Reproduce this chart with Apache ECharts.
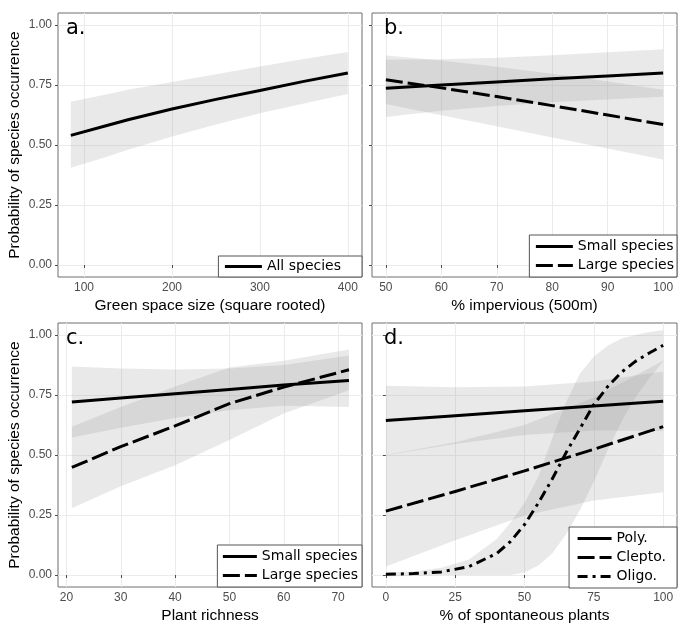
<!DOCTYPE html>
<html>
<head>
<meta charset="utf-8">
<script src="https://cdn.jsdelivr.net/npm/echarts@6/dist/echarts.min.js"></script>
<style>html,body{margin:0;padding:0;background:#fff}#chart{width:685px;height:636px}</style>
</head>
<body>
<div id="chart"></div>
<script>
// ---------- Panel a: Green space size ----------
const aX      = [85, 125, 150, 200, 250, 300, 350, 400];
const aFit    = [0.54, 0.58, 0.605, 0.65, 0.69, 0.727, 0.765, 0.80];
const aUpper  = [0.68, 0.71, 0.73, 0.762, 0.795, 0.827, 0.858, 0.887];
const aLower  = [0.405, 0.45, 0.48, 0.535, 0.585, 0.632, 0.673, 0.712];

// ---------- Panel b: % impervious ----------
const bX           = [50, 60, 70, 80, 90, 100];
const bSmallFit    = [0.736, 0.750, 0.763, 0.776, 0.788, 0.800];
const bSmallUpper  = [0.855, 0.857, 0.864, 0.874, 0.886, 0.899];
const bSmallLower  = [0.617, 0.643, 0.662, 0.678, 0.690, 0.701];
const bLargeFit    = [0.772, 0.738, 0.702, 0.664, 0.625, 0.585];
const bLargeUpper  = [0.873, 0.852, 0.826, 0.797, 0.765, 0.730];
const bLargeLower  = [0.671, 0.624, 0.578, 0.531, 0.485, 0.440];

// ---------- Panel c: Plant richness ----------
const cX           = [21, 30, 40, 50, 60, 72];
const cSmallFit    = [0.721, 0.737, 0.755, 0.773, 0.792, 0.81];
const cSmallUpper  = [0.869, 0.860, 0.856, 0.860, 0.875, 0.915];
const cSmallLower  = [0.573, 0.614, 0.654, 0.686, 0.705, 0.700];
const cLargeFit    = [0.448, 0.535, 0.621, 0.714, 0.783, 0.855];
const cLargeUpper  = [0.618, 0.700, 0.785, 0.865, 0.893, 0.940];
const cLargeLower  = [0.278, 0.370, 0.457, 0.563, 0.673, 0.770];

// ---------- Panel d: % of spontaneous plants ----------
const dX            = [0, 25, 50, 75, 100];
const dPolyFit      = [0.644, 0.664, 0.684, 0.704, 0.724];
const dPolyUpper    = [0.789, 0.782, 0.785, 0.806, 0.848];
const dPolyLower    = [0.499, 0.546, 0.583, 0.602, 0.600];
const dCleptoFit    = [0.266, 0.348, 0.434, 0.524, 0.618];
const dCleptoUpper  = [0.500, 0.553, 0.625, 0.740, 0.893];
const dCleptoLower  = [0.035, 0.145, 0.248, 0.310, 0.345];
const dOligoX       = [0, 10, 20, 30, 40, 45, 50, 55, 60, 65, 70, 75, 80, 85, 90, 95, 100];
const dOligoFit     = [0.003, 0.006, 0.013, 0.035, 0.09, 0.14, 0.21, 0.30, 0.40, 0.51, 0.61, 0.71, 0.785, 0.845, 0.89, 0.925, 0.957];
const dOligoUpper   = [0.01, 0.015, 0.03, 0.065, 0.15, 0.22, 0.30, 0.41, 0.57, 0.72, 0.84, 0.91, 0.955, 0.985, 1.0, 1.012, 1.02];
const dOligoLower   = [-0.005, -0.004, 0.0, 0.0, 0.0, 0.0, 0.01, 0.04, 0.09, 0.17, 0.27, 0.39, 0.52, 0.64, 0.74, 0.82, 0.89];

// ---------- Axes ----------
const xTicksA = [100, 200, 300, 400];
const xTicksB = [50, 60, 70, 80, 90, 100];
const xTicksC = [20, 30, 40, 50, 60, 70];
const xTicksD = [0, 25, 50, 75, 100];
const yTicks  = [0, 0.25, 0.5, 0.75, 1];
const xTitles = ['Green space size (square rooted)', '% impervious (500m)', 'Plant richness', '% of spontaneous plants'];
const yTitle  = 'Probability of species occurrence';
const panelLetters = ['a.', 'b.', 'c.', 'd.'];
const legendA = ['All species'];
const legendB = ['Small species', 'Large species'];
const legendC = ['Small species', 'Large species'];
const legendD = ['Poly.', 'Clepto.', 'Oligo.'];

// ---------- Styles ----------
const BAND = 'rgba(153,153,153,0.21)';
const SOLID = 'solid';
const DASH = [17, 5];
const DOTDASH = [10, 5, 3, 5];
const AXFONT = 'Liberation Sans, Arial, sans-serif';

const grids = [
  {left: 58,  top: 13,  width: 304, height: 264},
  {left: 372, top: 13,  width: 305, height: 264},
  {left: 58,  top: 323, width: 304, height: 264},
  {left: 372, top: 323, width: 305, height: 264}
].map(g => Object.assign(g, {show: true, borderColor: '#6e6e6e', borderWidth: 1, backgroundColor: 'transparent', containLabel: false, outerBoundsMode: 'none'}));

const xRanges = [[70.4, 416.1], [47.5, 102.5], [18.45, 74.4], [-5, 105]];
const xTickSets = [xTicksA, xTicksB, xTicksC, xTicksD];

const xAxes = xRanges.map((r, i) => ({
  type: 'value', gridIndex: i, min: r[0], max: r[1],
  name: xTitles[i], nameLocation: 'middle', nameGap: 20,
  nameTextStyle: {fontSize: 15.5, color: '#000', fontFamily: AXFONT, lineHeight: 18},
  axisLine: {show: false},
  axisTick: {show: true, length: 3, lineStyle: {color: '#4d4d4d', width: 1}, customValues: xTickSets[i]},
  axisLabel: {show: true, customValues: xTickSets[i], margin: 5, fontSize: 12, color: '#4d4d4d', fontFamily: AXFONT},
  splitLine: {show: true, lineStyle: {color: '#ebebeb', width: 1}}
}));

const yAxes = [0, 1, 2, 3].map(i => ({
  type: 'value', gridIndex: i, min: -0.05, max: 1.05,
  name: (i % 2 === 0) ? yTitle : '', nameLocation: 'middle', nameGap: 34,
  nameTextStyle: {fontSize: 15.5, color: '#000', fontFamily: AXFONT, lineHeight: 18},
  axisLine: {show: false},
  axisTick: {show: true, length: 3, lineStyle: {color: '#4d4d4d', width: 1}, customValues: yTicks},
  axisLabel: {show: i % 2 === 0, customValues: yTicks, margin: 6, fontSize: 12, color: '#4d4d4d', fontFamily: AXFONT,
              formatter: v => v.toFixed(2)},
  splitLine: {show: true, lineStyle: {color: '#ebebeb', width: 1}}
}));

const pairs = (xs, ys) => xs.map((x, k) => [x, ys[k]]);

// confidence ribbon: polygon through upper values then lower values back, positioned by the axes
function band(gi, xs, lo, hi) {
  return {
    type: 'custom', xAxisIndex: gi, yAxisIndex: gi, silent: true, z: 1, clip: true, animation: false,
    data: xs.map((x, k) => [x, lo[k], hi[k]]),
    encode: {x: 0, y: [1, 2]},
    renderItem: function (params, api) {
      if (params.dataIndex !== 0) return null;
      const pts = [];
      for (let k = 0; k < xs.length; k++) pts.push(api.coord([xs[k], hi[k]]));
      for (let k = xs.length - 1; k >= 0; k--) pts.push(api.coord([xs[k], lo[k]]));
      return {type: 'polygon', shape: {points: pts}, style: {fill: BAND, stroke: null}};
    }
  };
}

function curve(gi, name, xs, ys, type) {
  return {type: 'line', name: name, xAxisIndex: gi, yAxisIndex: gi, data: pairs(xs, ys), symbol: 'none',
          smooth: false, silent: true, z: 3, animation: false, emphasis: {disabled: true},
          lineStyle: {color: '#000', width: 3, type: type, cap: 'butt', join: 'round'}, itemStyle: {color: '#000'}};
}

const series = [
  band(0, aX, aLower, aUpper),
  band(1, bX, bSmallLower, bSmallUpper),
  band(1, bX, bLargeLower, bLargeUpper),
  band(2, cX, cSmallLower, cSmallUpper),
  band(2, cX, cLargeLower, cLargeUpper),
  band(3, dX, dPolyLower, dPolyUpper),
  band(3, dX, dCleptoLower, dCleptoUpper),
  band(3, dOligoX, dOligoLower, dOligoUpper),
  curve(0, legendA[0], aX, aFit, SOLID),
  curve(1, legendB[0], bX, bSmallFit, SOLID),
  curve(1, legendB[1], bX, bLargeFit, DASH),
  curve(2, legendC[0], cX, cSmallFit, SOLID),
  curve(2, legendC[1], cX, cLargeFit, DASH),
  curve(3, legendD[0], dX, dPolyFit, SOLID),
  curve(3, legendD[1], dX, dCleptoFit, DASH),
  curve(3, legendD[2], dOligoX, dOligoFit, DOTDASH)
];

function legend(data, pos, pad, itemWidth) {
  return Object.assign({
    data: data, orient: 'vertical', selectedMode: false,
    itemWidth: itemWidth, itemHeight: 17, itemGap: 2, padding: pad,
    backgroundColor: '#fff', borderColor: '#555', borderWidth: 1, borderRadius: 0,
    lineStyle: {width: 3},
    itemStyle: {color: 'rgba(0,0,0,0)', borderWidth: 0, borderColor: 'rgba(0,0,0,0)', opacity: 0},
    textStyle: {fontSize: 14, color: '#000', fontFamily: 'DejaVu Sans', lineHeight: 17},
    z: 10
  }, pos);
}

const legends = [
  legend(legendA, {right: 323, bottom: 359}, [2, 21, 2, 5], 37),
  legend(legendB, {right: 8, bottom: 359}, [3, 3, 3, 5], 37),
  legend(legendC, {right: 323, bottom: 49}, [3, 4, 3, 4], 34),
  legend(legendD, {right: 8, bottom: 48}, [3, 11, 3, 7], 34)
];

const letterPos = [[66, 18], [384, 18], [66, 328], [384, 328]];
const graphic = panelLetters.map((t, i) => ({
  type: 'text', left: letterPos[i][0], top: letterPos[i][1], z: 20,
  style: {text: t, fontSize: 21, fontFamily: 'DejaVu Sans', fill: '#000'}
}));

const chart = echarts.init(document.getElementById('chart'), null, {renderer: 'canvas'});
chart.setOption({
  animation: false,
  backgroundColor: '#fff',
  grid: grids,
  xAxis: xAxes,
  yAxis: yAxes,
  legend: legends,
  graphic: graphic,
  series: series
});
</script>
</body>
</html>
